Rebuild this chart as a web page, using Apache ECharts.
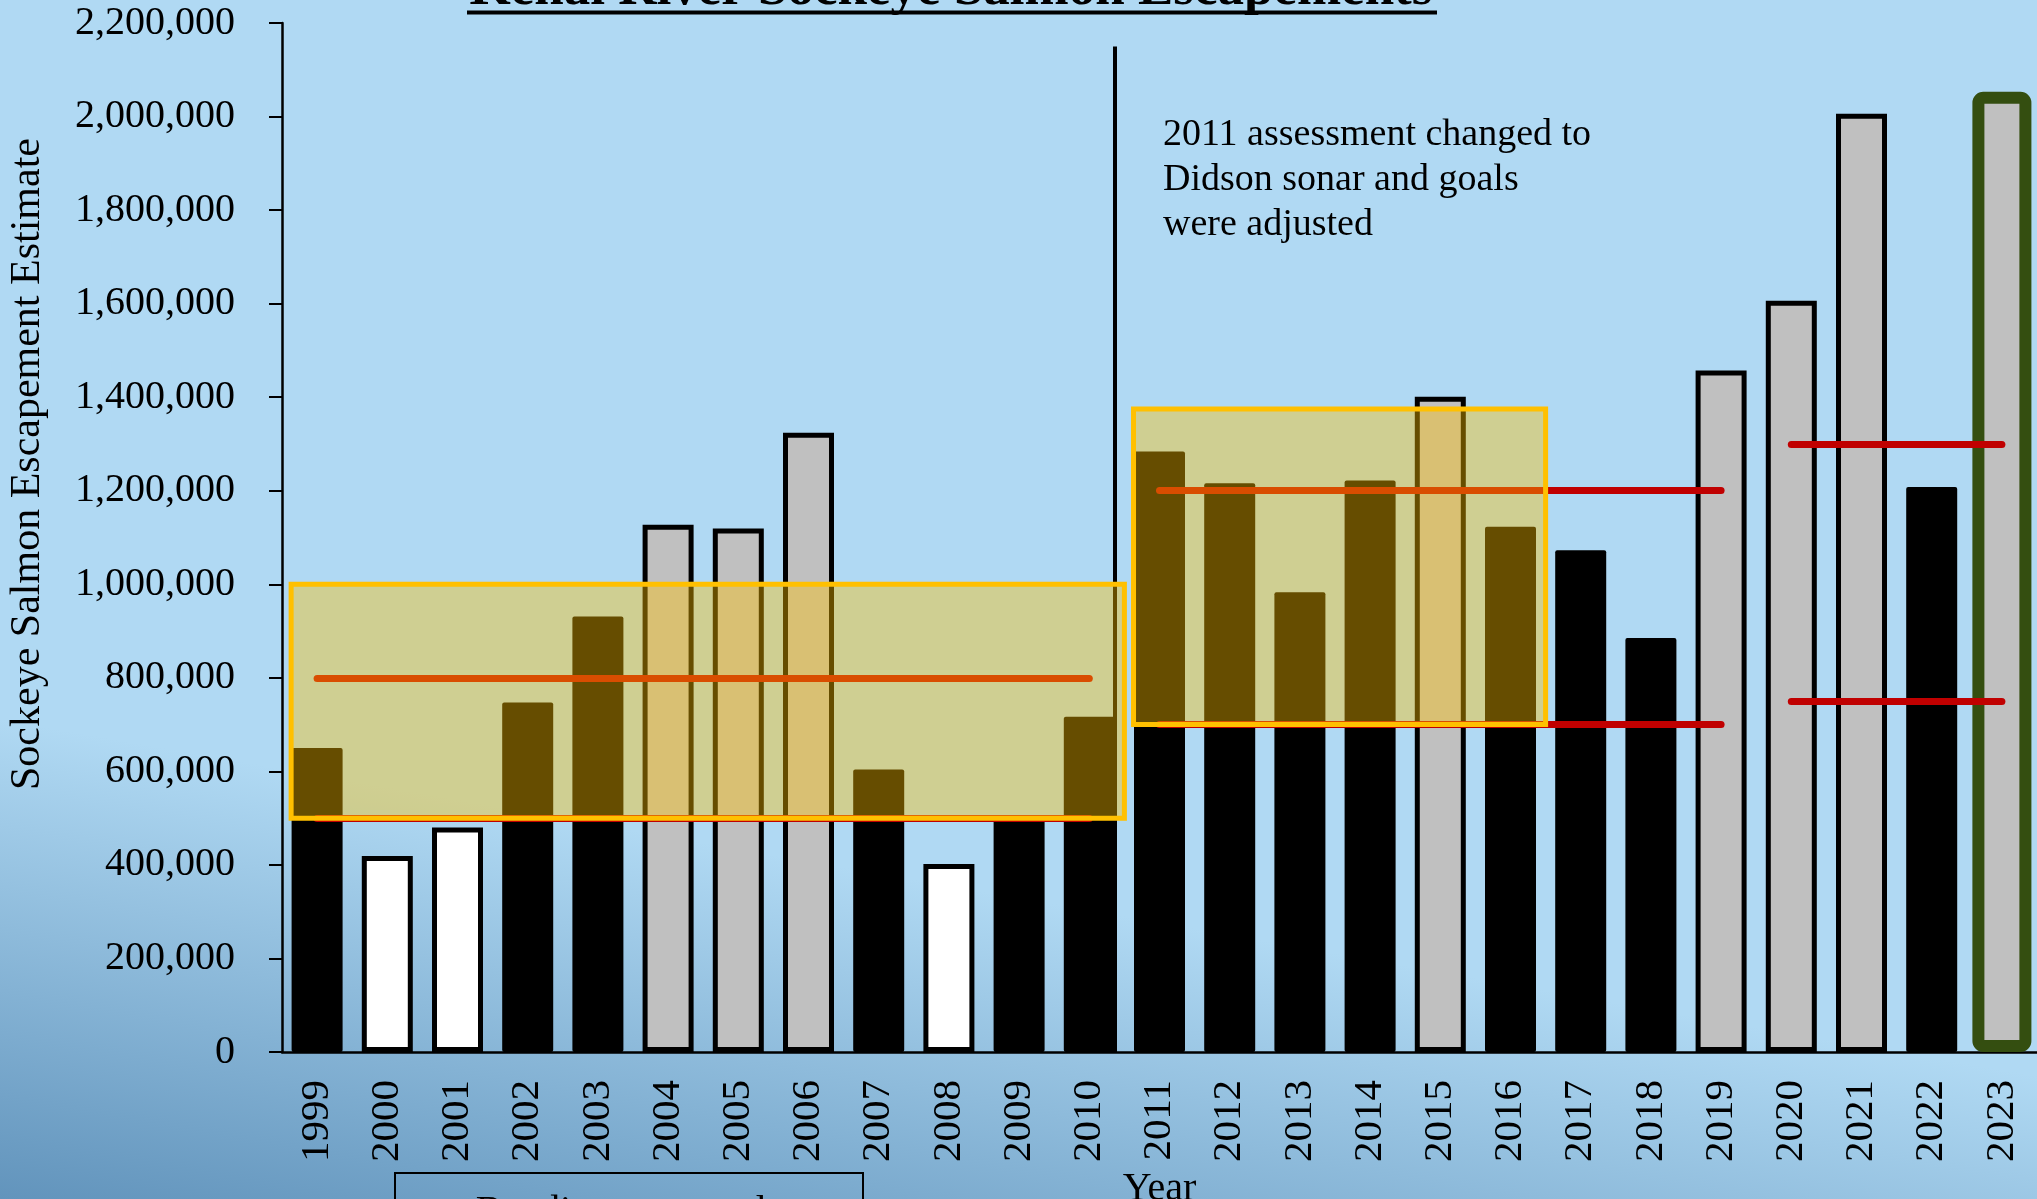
<!DOCTYPE html>
<html>
<head>
<meta charset="utf-8">
<title>Kenai River Sockeye Salmon Escapements</title>
<script src="https://cdn.jsdelivr.net/npm/echarts@6/dist/echarts.min.js"></script>
<style>
  html, body { margin: 0; padding: 0; }
  #main { width: 2037px; height: 1199px; }
</style>
</head>
<body>
<div id="main"></div>
<script>
// data
const years = ['1999', '2000', '2001', '2002', '2003', '2004', '2005', '2006', '2007', '2008',
  '2009', '2010', '2011', '2012', '2013', '2014', '2015', '2016', '2017', '2018',
  '2019', '2020', '2021', '2022', '2023'];
const escapement = [650000, 419000, 480000, 747000, 931000, 1127000, 1119000, 1324000, 604000, 402000,
  505000, 717000, 1284000, 1216000, 983000, 1222000, 1401000, 1123000, 1073000, 885000,
  1457000, 1606000, 2006000, 1208000, 2053000];
// bar fill per year
const barKind = ['black', 'white', 'white', 'black', 'black', 'grey', 'grey', 'grey', 'black', 'white',
  'black', 'black', 'black', 'black', 'black', 'black', 'grey', 'black', 'black', 'black',
  'grey', 'grey', 'grey', 'black', 'current'];
// goal ranges (red lines)
const goalFrom = ['1999', '2011', '2020'];
const goalTo = ['2010', '2019', '2023'];
const goalLower = [500000, 700000, 750000];
const goalUpper = [800000, 1200000, 1300000];
// highlighted boxes
const boxFrom = ['1999', '2011'];
const boxTo = ['2010', '2016'];
const boxLow = [500000, 700000];
const boxHigh = [1000000, 1375000];
const yMax = 2200000;
const yStep = 200000;
const dividerTop = 2150000;

const font = '"Liberation Serif", "Times New Roman", serif';
const idx = y => years.indexOf(y);

const chart = echarts.init(document.getElementById('main'));

function borderedStyle(kind) {
  if (kind === 'white') return { color: '#ffffff', borderColor: '#000', borderWidth: 5 };
  return { color: '#c0c0c0', borderColor: '#000', borderWidth: 5 };
}

const goalLines = [];
goalFrom.forEach((f, i) => {
  goalLines.push([{ coord: [idx(f), goalLower[i]] }, { coord: [idx(goalTo[i]), goalLower[i]] }]);
  goalLines.push([{ coord: [idx(f), goalUpper[i]] }, { coord: [idx(goalTo[i]), goalUpper[i]] }]);
});

const boxAreas = boxFrom.map((f, i) => [
  { coord: [idx(f) - 0.37, boxHigh[i]] },
  { coord: [idx(boxTo[i]) + 0.5, boxLow[i]] }
]);

// divider sits at the right edge of the 2010 bar
const dividerX = idx('2010') + 25.5 / ((2037 - 282) / years.length);

chart.setOption({
  animation: false,
  backgroundColor: {
    type: 'linear', x: 0, y: 0, x2: -0.1, y2: 0.97,
    colorStops: [
      { offset: 0, color: '#b0d9f3' },
      { offset: 0.6, color: '#b0d9f3' },
      { offset: 1, color: '#6294bc' }
    ]
  },
  grid: { left: 282, right: 0, top: 23, bottom: 147, containLabel: false, outerBoundsMode: 'none' },
  xAxis: [
    {
      type: 'category',
      data: years,
      name: 'Year',
      nameLocation: 'middle',
      nameGap: 104,
      nameTextStyle: { fontFamily: font, fontSize: 40, color: '#000' },
      axisLine: { lineStyle: { color: '#000', width: 2.5 } },
      axisTick: { length: 12, lineStyle: { color: '#000', width: 2 } },
      axisLabel: { rotate: 90, margin: 28, fontFamily: font, fontSize: 41, color: '#000' }
    },
    { type: 'category', data: years, show: false },
    { type: 'value', min: -0.5, max: years.length - 0.5, show: false },
    { type: 'category', data: years, show: false }
  ],
  yAxis: {
    type: 'value',
    min: 0,
    max: yMax,
    interval: yStep,
    axisLine: { show: true, onZero: false, lineStyle: { color: '#000', width: 2.5 } },
    axisTick: { show: true, length: 13, lineStyle: { color: '#000', width: 2 } },
    splitLine: { show: false },
    axisLabel: {
      margin: 47, fontFamily: font, fontSize: 40, color: '#000',
      formatter: v => v.toLocaleString('en-US')
    }
  },
  series: [
    {
      type: 'bar',
      xAxisIndex: 0,
      barWidth: 51,
      itemStyle: { color: '#000', borderRadius: 2 },
      data: escapement.map((v, i) => barKind[i] === 'black' ? v : '-'),
      markLine: {
        z: 4,
        silent: true,
        symbol: ['none', 'none'],
        label: { show: false },
        lineStyle: { color: '#c00000', width: 7, type: 'solid', cap: 'round' },
        data: goalLines
      }
    },
    {
      type: 'bar',
      xAxisIndex: 1,
      barWidth: 51,
      data: escapement.map((v, i) => (barKind[i] === 'white' || barKind[i] === 'grey') ?
        { value: v, itemStyle: borderedStyle(barKind[i]) } : '-')
    },
    {
      type: 'bar',
      xAxisIndex: 3,
      barWidth: 59,
      itemStyle: { color: '#c0c0c0', borderColor: '#344e10', borderWidth: 12, borderRadius: 5 },
      data: escapement.map((v, i) => barKind[i] === 'current' ? v : '-')
    },
    {
      type: 'line',
      xAxisIndex: 2,
      data: [],
      markLine: {
        z: 3,
        silent: true,
        symbol: ['none', 'none'],
        label: { show: false },
        lineStyle: { color: '#000', width: 4, type: 'solid' },
        data: [[{ coord: [dividerX, 0] }, { coord: [dividerX, dividerTop] }]]
      },
      markArea: {
        z: 6,
        silent: true,
        itemStyle: { color: 'rgba(255,192,0,0.4)', borderColor: '#ffc000', borderWidth: 5 },
        data: boxAreas
      }
    }
  ],
  graphic: [
    {
      type: 'text', x: 951, y: -10, z: 10,
      style: {
        text: 'Kenai River Sockeye Salmon Escapements',
        font: 'bold 53px ' + font, fill: '#000',
        align: 'center', verticalAlign: 'middle', textAlign: 'center', textVerticalAlign: 'middle'
      }
    },
    { type: 'rect', z: 10, shape: { x: 467, y: 10.5, width: 970, height: 4 }, style: { fill: '#000' } },
    {
      type: 'text', x: 28, y: 464, rotation: Math.PI / 2, z: 10,
      style: {
        text: 'Sockeye Salmon Escapement Estimate',
        font: '42px ' + font, fill: '#000',
        align: 'center', verticalAlign: 'middle', textAlign: 'center', textVerticalAlign: 'middle'
      }
    },
    {
      type: 'text', x: 1163, y: 113, z: 10,
      style: {
        text: '2011 assessment changed to\nDidson sonar and goals\nwere adjusted',
        font: '38px ' + font, fill: '#000', lineHeight: 45,
        align: 'left', verticalAlign: 'top', textAlign: 'left', textVerticalAlign: 'top'
      }
    },
    {
      type: 'rect', z: 10, shape: { x: 395, y: 1173, width: 468, height: 80 },
      style: { fill: null, stroke: '#000', lineWidth: 2 }
    },
    {
      type: 'text', x: 629, y: 1192, z: 10,
      style: {
        text: 'Bendix sonar goals',
        font: '40px ' + font, fill: '#000',
        align: 'center', verticalAlign: 'top', textAlign: 'center', textVerticalAlign: 'top'
      }
    }
  ]
});
</script>
</body>
</html>
